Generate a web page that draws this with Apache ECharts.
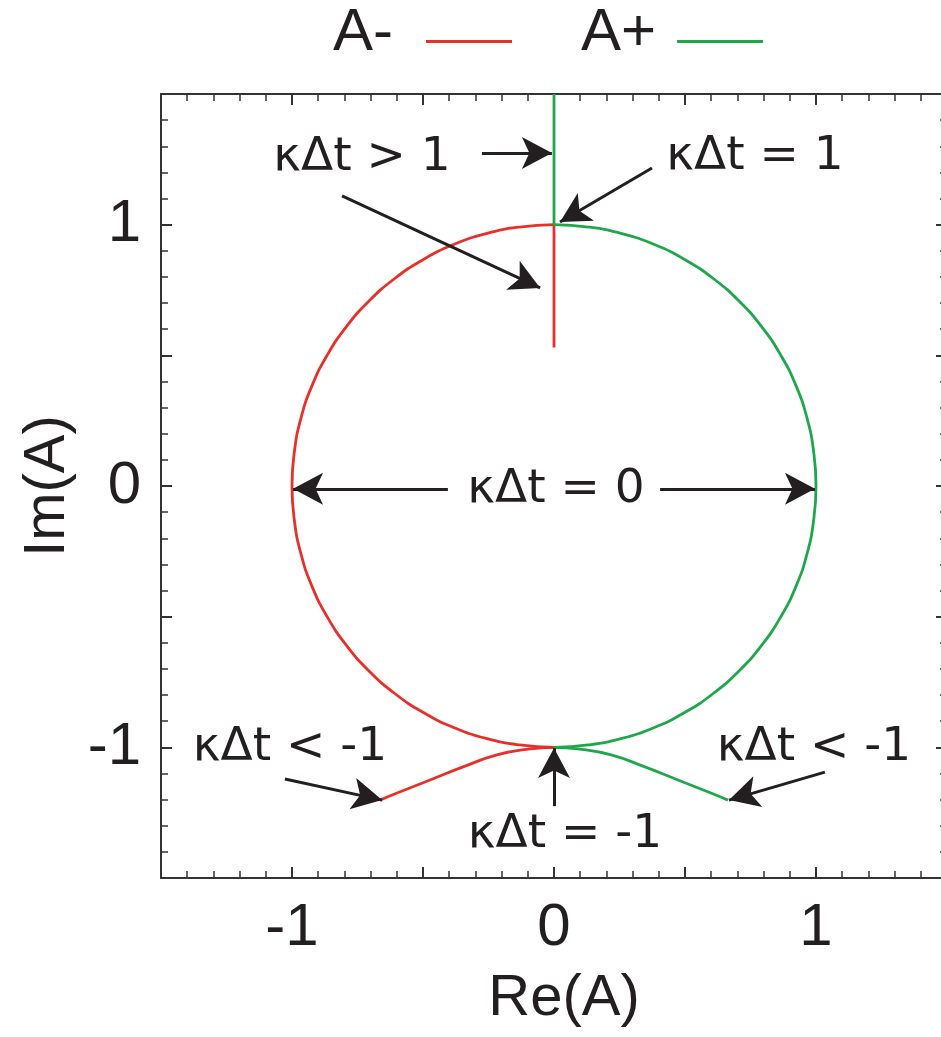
<!DOCTYPE html>
<html>
<head>
<meta charset="utf-8">
<script src="https://cdn.jsdelivr.net/npm/echarts@6/dist/echarts.min.js"></script>
<style>
  html, body { margin: 0; padding: 0; background: #fff; }
  #main { width: 941px; height: 1037px; }
</style>
</head>
<body>
<div id="main"></div>
<script>
// branch for kdt < -1, starting at -i
var tailIm = [-1, -1.006, -1.029, -1.075, -1.125, -1.175, -1.202];
var redTailRe = [0, -0.092, -0.218, -0.347, -0.473, -0.599, -0.664];
var greenTailRe = [0, 0.092, 0.218, 0.347, 0.473, 0.599, 0.664];

// |kdt| <= 1 : points on the unit circle, from -i up to +i
var arcIm = [-1, -0.991, -0.966, -0.924, -0.866, -0.793, -0.707, -0.609, -0.5, -0.383, -0.259, -0.131, 0,
  0.131, 0.259, 0.383, 0.5, 0.609, 0.707, 0.793, 0.866, 0.924, 0.966, 0.991, 1];
var redArcRe = [0, -0.131, -0.259, -0.383, -0.5, -0.609, -0.707, -0.793, -0.866, -0.924, -0.966, -0.991, -1,
  -0.991, -0.966, -0.924, -0.866, -0.793, -0.707, -0.609, -0.5, -0.383, -0.259, -0.131, 0];
var greenArcRe = [0, 0.131, 0.259, 0.383, 0.5, 0.609, 0.707, 0.793, 0.866, 0.924, 0.966, 0.991, 1,
  0.991, 0.966, 0.924, 0.866, 0.793, 0.707, 0.609, 0.5, 0.383, 0.259, 0.131, 0];

// kdt > 1 : purely imaginary
var stemRe = [0, 0];
var redStemIm = [1, 0.53];
var greenStemIm = [1, 1.5];

var seriesNames = ['A-', 'A+'];

// annotation arrows: [tailRe, tailIm, tipRe, tipIm]
var arrows = [
  [-0.275, 1.274, -0.008, 1.274],
  [-0.809, 1.110, -0.053, 0.758],
  [0.374, 1.217, 0.023, 1.010],
  [-0.405, -0.011, -0.996, -0.011],
  [0.405, -0.011, 0.996, -0.011],
  [-1.027, -1.121, -0.656, -1.202],
  [1.034, -1.095, 0.668, -1.202],
  [0, -1.225, 0, -1.003]
];

var noteText = ['κΔt > 1', 'κΔt = 1', 'κΔt = 0', 'κΔt < -1', 'κΔt < -1', 'κΔt = -1'];
var noteX = [362, 755, 556, 290, 814, 565];
var noteY = [158, 157, 490, 748, 748, 835];

var RED = '#e8302a';
var GREEN = '#1fa84b';
var INK = '#231f20';
var AXIS = '#333333';
var sans = '"Liberation Sans", Arial, sans-serif';
var noteFont = '"DejaVu Sans", sans-serif';

// thin line drawn in the lower part of the legend icon box
var legendLine = 'path://M0,0h1v0.01h-1z M0,17h1v3h-1z';

function zip(a, b) {
  return a.map(function (v, i) { return [v, b[i]]; });
}

function intLabel(v) {
  return Math.abs(v - Math.round(v)) < 1e-9 ? String(Math.round(v)) : '';
}

function makeAxis(pos, labels, extra) {
  var ax = {
    type: 'value',
    min: -1.5,
    max: 1.5,
    interval: 0.5,
    position: pos,
    axisLine: { show: true, onZero: false, lineStyle: { color: AXIS, width: 2 } },
    axisTick: { show: true, inside: true, length: 11, lineStyle: { color: AXIS, width: 2 } },
    minorTick: { show: true, splitNumber: 5, length: 7, lineStyle: { color: AXIS, width: 1.5 } },
    splitLine: { show: false },
    axisLabel: {
      show: labels,
      formatter: intLabel,
      fontSize: 60,
      fontFamily: sans,
      color: INK,
      margin: 20
    }
  };
  for (var k in extra) ax[k] = extra[k];
  return ax;
}

function curve(name, color, re, im, smooth) {
  return {
    name: name, type: 'line', data: zip(re, im), symbol: 'none', smooth: smooth,
    color: color, lineStyle: { color: color, width: 2.8 }, z: 3
  };
}

var chart = echarts.init(document.getElementById('main'));

chart.setOption({
  animation: false,
  grid: { left: 161, top: 94, right: -6, bottom: 159, outerBoundsMode: 'none' },
  legend: {
    left: 328,
    top: -2,
    data: [
      { name: seriesNames[0], textStyle: { padding: [0, 28, 0, 0] } },
      { name: seriesNames[1], textStyle: { padding: [0, 16, 0, 0] } }
    ],
    align: 'right',
    icon: legendLine,
    symbolKeepAspect: false,
    itemWidth: 86,
    itemHeight: 20,
    itemGap: 69,
    selectedMode: false,
    textStyle: { fontSize: 60, fontFamily: sans, color: INK }
  },
  xAxis: [
    makeAxis('bottom', true, {
      name: 'Re(A)', nameLocation: 'middle', nameGap: 92,
      nameTextStyle: { fontSize: 58, fontFamily: sans, color: INK, padding: [0, 0, 0, 20] }
    }),
    makeAxis('top', false, {})
  ],
  yAxis: [
    makeAxis('left', true, {
      name: 'Im(A)', nameLocation: 'middle', nameGap: 80, nameRotate: 90,
      nameTextStyle: { fontSize: 58, fontFamily: sans, color: INK }
    }),
    makeAxis('right', false, {})
  ],
  graphic: noteText.map(function (t, i) {
    return {
      type: 'text',
      x: noteX[i],
      y: noteY[i],
      z: 10,
      style: { text: t, fill: INK, font: '47px ' + noteFont, align: 'center', verticalAlign: 'middle' }
    };
  }),
  series: [
    curve(seriesNames[0], RED, redTailRe, tailIm, true),
    curve(seriesNames[0], RED, redArcRe, arcIm, true),
    curve(seriesNames[0], RED, stemRe, redStemIm, false),
    curve(seriesNames[1], GREEN, greenTailRe, tailIm, true),
    curve(seriesNames[1], GREEN, greenArcRe, arcIm, true),
    curve(seriesNames[1], GREEN, stemRe, greenStemIm, false),
    {
      type: 'line', data: [], symbol: 'none',
      markLine: {
        silent: true,
        symbol: ['none', 'arrow'],
        symbolSize: [24, 30],
        label: { show: false },
        lineStyle: { color: INK, width: 3, type: 'solid' },
        itemStyle: { color: INK },
        data: arrows.map(function (a) {
          return [{ coord: [a[0], a[1]] }, { coord: [a[2], a[3]] }];
        })
      }
    }
  ]
});
</script>
</body>
</html>
